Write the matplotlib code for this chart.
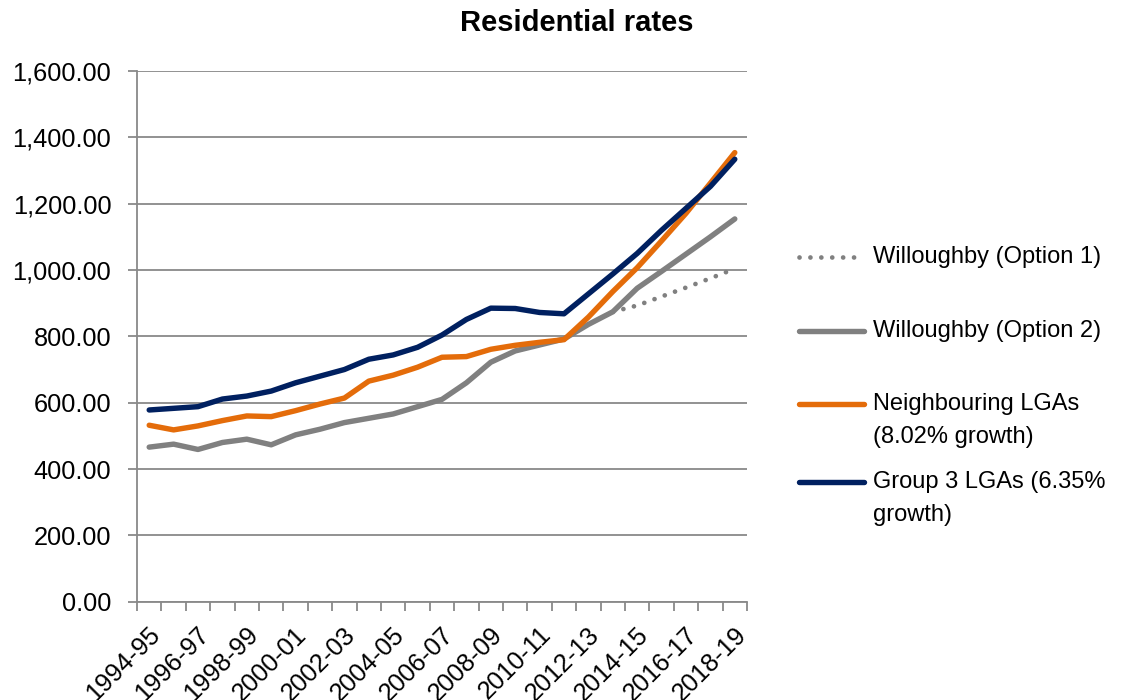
import numpy as np
import matplotlib
matplotlib.use("Agg")
import matplotlib.pyplot as plt
from matplotlib.lines import Line2D
from matplotlib.ticker import FuncFormatter
import matplotlib.transforms as mtrans

plt.rcParams['font.family'] = ['Liberation Sans', 'DejaVu Sans']

years = ["1994-95", "1995-96", "1996-97", "1997-98", "1998-99", "1999-00",
         "2000-01", "2001-02", "2002-03", "2003-04", "2004-05", "2005-06",
         "2006-07", "2007-08", "2008-09", "2009-10", "2010-11", "2011-12",
         "2012-13", "2013-14", "2014-15", "2015-16", "2016-17", "2017-18",
         "2018-19"]

willoughby_opt1 = [np.nan] * 19 + [874, 893, 920, 947, 975, 1004]
willoughby_opt2 = [466, 475, 459, 480, 490, 473, 503, 520, 540, 553, 566, 588,
                   610, 660, 722, 756, 774, 792, 836, 874, 945, 996, 1048, 1100,
                   1154]
neighbouring = [532, 518, 530, 546, 560, 558, 576, 596, 614, 665, 683, 707,
                737, 739, 761, 773, 782, 790, 858, 935, 1007, 1088, 1171, 1262,
                1354]
group3 = [578, 583, 588, 611, 620, 635, 660, 680, 700, 731, 744, 767,
          804, 851, 885, 884, 872, 868, 928, 988, 1050, 1120, 1186, 1252, 1334]

series_labels = ["Willoughby (Option 1)", "Willoughby (Option 2)",
                 "Neighbouring LGAs\n(8.02% growth)",
                 "Group 3 LGAs (6.35%\ngrowth)"]

GREY = '#808080'
ORANGE = '#E46C0A'
NAVY = '#002060'
AXC = '#898989'
LW = 3.9

W, H = 1136, 700
fig = plt.figure(figsize=(W / 100, H / 100), dpi=100)
ax = fig.add_axes([137 / W, (H - 601.7) / H, 610 / W, (601.7 - 71) / H])

x = np.arange(len(years))
dot_style = dict(color=GREY, lw=3.4, linestyle=(0, (0.01, 2.3)),
                 dash_capstyle='round')
solid = dict(solid_capstyle='round', solid_joinstyle='round')
ax.plot(x, willoughby_opt1, **dot_style)
ax.plot(x, willoughby_opt2, color=GREY, lw=LW, **solid)
ax.plot(x, neighbouring, color=ORANGE, lw=LW, **solid)
ax.plot(x, group3, color=NAVY, lw=LW, **solid)

ax.set_xlim(-0.5, len(years) - 0.5)
ax.set_ylim(0, 1600)
ax.set_yticks(np.arange(0, 1601, 200))
ax.yaxis.set_major_formatter(FuncFormatter(lambda v, p: f"{v:,.2f}"))
ax.yaxis.grid(True, color=AXC, lw=1.3)
ax.set_axisbelow(True)
for s in ['top', 'right']:
    ax.spines[s].set_visible(False)
for s in ['left', 'bottom']:
    ax.spines[s].set_color(AXC)
    ax.spines[s].set_linewidth(1.3)

ax.tick_params(axis='y', direction='out', length=6.5, width=1.3, color=AXC,
               pad=12, labelsize=18.3)

ax.set_xticks(x[::2])
ax.set_xticklabels(years[::2])
ax.set_xticks(np.arange(-0.5, len(years), 1.0), minor=True)
ax.tick_params(axis='x', which='major', length=0, pad=15, labelsize=18.3)
ax.tick_params(axis='x', which='minor', direction='out', length=6.5,
               width=1.3, color=AXC)
offset = mtrans.ScaledTranslation(-1 / 100, 0, fig.dpi_scale_trans)
for lab in ax.get_xticklabels():
    lab.set_rotation(45)
    lab.set_ha('right')
    lab.set_va('top')
    lab.set_rotation_mode('anchor')
    lab.set_transform(lab.get_transform() + offset)

fig.text(577 / W, 1 - 23 / H, "Residential rates", ha='center', va='center',
         fontsize=21, fontweight='bold')

# legend, drawn by hand to follow the original's layout
leg_y = [257, 331, 404, 482]
leg_styles = [dot_style,
              dict(color=GREY, lw=LW, solid_capstyle='round'),
              dict(color=ORANGE, lw=LW, solid_capstyle='round'),
              dict(color=NAVY, lw=LW, solid_capstyle='round')]
line_gap = 33
for yy, lab, st in zip(leg_y, series_labels, leg_styles):
    fy = 1 - yy / H
    fig.add_artist(Line2D([799 / W, 864 / W], [fy, fy],
                          transform=fig.transFigure, **st))
    for k, part in enumerate(lab.split("\n")):
        fig.text(873 / W, 1 - (yy + k * line_gap) / H, part, ha='left',
                 va='center', fontsize=17)

fig.savefig("out.png", dpi=100)
